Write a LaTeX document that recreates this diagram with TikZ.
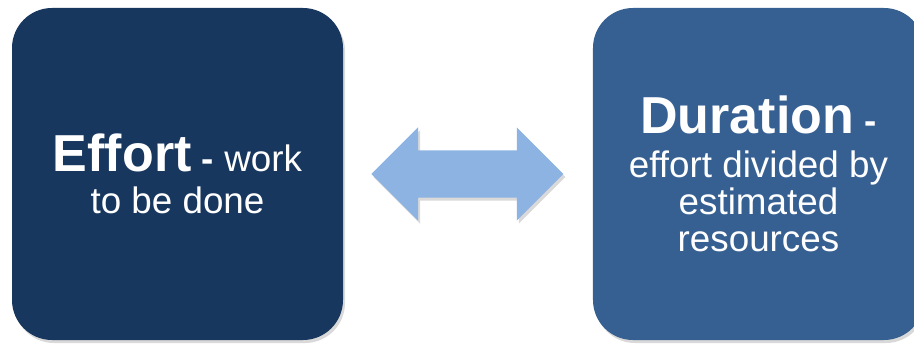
\documentclass[tikz,border=0pt]{standalone}
\usepackage{fontspec}
\setmainfont{Liberation Sans}
\usepackage{tikz}
\usetikzlibrary{positioning,shapes.arrows,shadows}
\definecolor{effortblue}{HTML}{17375E}
\definecolor{durationblue}{HTML}{376092}
\definecolor{arrowblue}{HTML}{8DB3E2}
\newcommand{\headword}[1]{{\fontsize{52}{42}\selectfont\bfseries #1}}

\begin{document}
\begin{tikzpicture}[x=1pt, y=-1pt,
        softshadow/.style={drop shadow={shadow xshift=2pt, shadow yshift=-3pt, opacity=0.3}},
        box/.style={minimum width=331pt, minimum height=332pt, rounded corners=40pt, inner sep=0pt, text=white, align=center, softshadow},
        linkarrow/.style={double arrow, fill=arrowblue, inner sep=0pt, text height=23.5pt, text depth=23.5pt, minimum height=192pt, double arrow head extend=23pt, double arrow tip angle=90, softshadow}]
    \useasboundingbox (0,0) rectangle (914,345);
    \node[box, fill=effortblue, font=\fontsize{36.8}{42}\selectfont] (effort) at (177.5,174) {\headword{Effort} {\bfseries -} work\\to be done};
    \node[linkarrow, right=28pt of effort] (link) {};
    \node[box, fill=durationblue, font=\fontsize{36.8}{37}\selectfont, right=29pt of link] (duration) {\headword{Duration} {\bfseries -}\\[7pt]effort divided by\\estimated\\resources};
\end{tikzpicture}
\end{document}
